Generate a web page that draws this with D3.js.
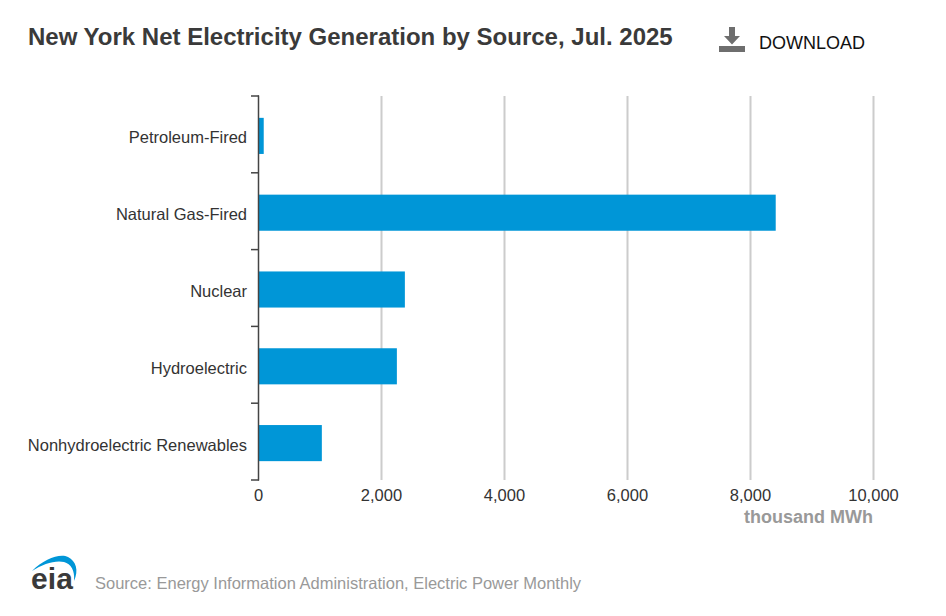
<!DOCTYPE html>
<html>
<head>
<meta charset="utf-8">
<script src="https://cdn.jsdelivr.net/npm/d3@7/dist/d3.min.js"></script>
<style>
  html, body { margin: 0; padding: 0; background: #fff; }
  svg { display: block; font-family: "Liberation Sans", Arial, sans-serif; }
</style>
</head>
<body>
<svg id="chart" width="946" height="616"></svg>
<script>
const categories = ['Petroleum-Fired', 'Natural Gas-Fired', 'Nuclear', 'Hydroelectric', 'Nonhydroelectric Renewables'];
const values = [85, 8410, 2380, 2250, 1030];
const xTicks = [0, 2000, 4000, 6000, 8000, 10000];

const svg = d3.select('#chart');

const x = d3.scaleLinear().domain([0, 10000]).range([258.5, 873.5]);
// bars sit about 1.5px below the middle of their tick interval
const y = d3.scaleBand().domain(categories).range([97.5, 481.5]).paddingInner(0.53).paddingOuter(0.265);

// title
svg.append('text')
  .attr('x', 28).attr('y', 45)
  .attr('font-size', 24).attr('font-weight', 'bold').attr('fill', '#3a3a3a')
  .text('New York Net Electricity Generation by Source, Jul. 2025');

// download button
const dl = svg.append('g').attr('fill', '#6e6e6e');
dl.append('rect').attr('x', 719).attr('y', 46).attr('width', 26).attr('height', 6);
dl.append('path').attr('d', 'M729 27h6v9h5l-8 8.5l-8-8.5h5z');
svg.append('text')
  .attr('x', 759).attr('y', 49)
  .attr('font-size', 18).attr('fill', '#111')
  .text('DOWNLOAD');

// grid
svg.append('g').selectAll('line')
  .data(xTicks.slice(1))
  .enter().append('line')
  .attr('x1', d => x(d)).attr('x2', d => x(d))
  .attr('y1', 96).attr('y2', 480)
  .attr('stroke', '#cccccc').attr('stroke-width', 2);

// bars
svg.append('g').selectAll('rect')
  .data(values)
  .enter().append('rect')
  .attr('x', x(0))
  .attr('y', (d, i) => y(categories[i]))
  .attr('width', d => x(d) - x(0))
  .attr('height', y.bandwidth())
  .attr('fill', '#0096d7');

// y axis with ticks at the band edges
const edges = d3.range(categories.length + 1).map(i => 96 + i * 76.8);
svg.append('g').selectAll('line')
  .data(edges)
  .enter().append('line')
  .attr('x1', 251).attr('x2', 259)
  .attr('y1', d => d).attr('y2', d => d)
  .attr('stroke', '#444').attr('stroke-width', 1.5);
svg.append('line')
  .attr('x1', 258.5).attr('x2', 258.5)
  .attr('y1', 95.5).attr('y2', 480.5)
  .attr('stroke', '#444').attr('stroke-width', 1.5);

svg.append('g').selectAll('text')
  .data(categories)
  .enter().append('text')
  .attr('x', 247)
  .attr('y', d => y(d) + y.bandwidth() / 2 + 7.5)
  .attr('text-anchor', 'end')
  .attr('font-size', 16.5).attr('fill', '#333')
  .text(d => d);

// x axis labels
const fmt = d3.format(',');
svg.append('g').selectAll('text')
  .data(xTicks)
  .enter().append('text')
  .attr('x', d => x(d))
  .attr('y', 501)
  .attr('text-anchor', 'middle')
  .attr('font-size', 16.5).attr('fill', '#333')
  .text(d => fmt(d));

svg.append('text')
  .attr('x', 873).attr('y', 523)
  .attr('text-anchor', 'end')
  .attr('font-size', 18).attr('font-weight', 'bold').attr('fill', '#999')
  .text('thousand MWh');

// eia logo
svg.append('path')
  .attr('d', 'M32 571 C44 559 60 553 68 557 C76 561 79 570 74 581 C75 570 71 564 64 562 C55 560 43 564 32 571 Z')
  .attr('fill', '#0096d7');
svg.append('text')
  .attr('x', 31).attr('y', 589)
  .attr('font-size', 30).attr('font-weight', 'bold').attr('fill', '#3a3a3a')
  .attr('textLength', 42)
  .text('eia');

// source
svg.append('text')
  .attr('x', 95).attr('y', 589)
  .attr('font-size', 16.5).attr('fill', '#999')
  .text('Source: Energy Information Administration, Electric Power Monthly');
</script>
</body>
</html>
